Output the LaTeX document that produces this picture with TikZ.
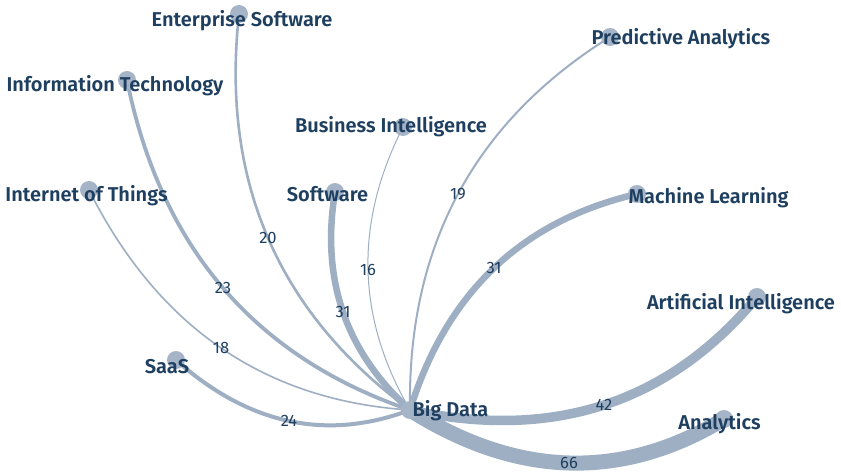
\documentclass[tikz,border=0pt]{standalone}
\usepackage{fontspec}
\setmainfont{Fira Sans}
\newfontfamily\lblfont{Fira Sans SemiBold}
\usetikzlibrary{calc}
\definecolor{edgecol}{RGB}{158,175,195}
\definecolor{dotcol}{RGB}{166,180,200}
\definecolor{txtcol}{RGB}{30,63,96}
\tikzset{
  edgeline/.style={draw=edgecol, line cap=round},
  dot/.style={circle, fill=dotcol, minimum size=18pt, inner sep=0pt, draw=none},
  nlabel/.style={font=\lblfont\fontsize{20}{22}\selectfont, text=txtcol, anchor=base, inner sep=0pt, yshift=-1.5pt},
  elabel/.style={font=\fontsize{16.5}{18}\selectfont, text=txtcol, inner sep=0pt},
}
\newcommand\bdlink[3]{%
  \draw[edgeline, line width=#3pt] (bd) .. controls ($1.3333*(#2)-0.3333*(#1)$) and ($1.3333*(#2)-0.3333*(bd)$) .. (#1);}
\begin{document}
\begin{tikzpicture}[x=1pt,y=-1pt]
\useasboundingbox[fill=white] (0,0) rectangle (841,473);
% node centres
\coordinate (bd) at (410,410);
\coordinate (ent) at (239,14);
\coordinate (it) at (127,80);
\coordinate (bi) at (403,127);
\coordinate (iot) at (89,190);
\coordinate (sw) at (335,192);
\coordinate (pa) at (610,37);
\coordinate (ml) at (637,194);
\coordinate (ai) at (757,297);
\coordinate (an) at (724,419);
\coordinate (saas) at (176,360);
% curve midpoints
\coordinate (m-ent) at (268,238);
\coordinate (m-it) at (223,288);
\coordinate (m-iot) at (221,348);
\coordinate (m-sw) at (343,312);
\coordinate (m-bi) at (368,270);
\coordinate (m-pa) at (458,194);
\coordinate (m-ml) at (494,268);
\coordinate (m-ai) at (604,405);
\coordinate (m-an) at (569,463);
\coordinate (m-saas) at (289,421);
% edges
\bdlink{an}{m-an}{15}
\bdlink{ai}{m-ai}{9.5}
\bdlink{ml}{m-ml}{6.5}
\bdlink{sw}{m-sw}{6.5}
\bdlink{saas}{m-saas}{4}
\bdlink{it}{m-it}{3.8}
\bdlink{ent}{m-ent}{2.6}
\bdlink{pa}{m-pa}{2}
\bdlink{iot}{m-iot}{1.6}
\bdlink{bi}{m-bi}{1}
% circles
\foreach \n in {bd,ent,it,bi,iot,sw,pa,ml,ai,an,saas}{\node[dot] (dot-\n) at (\n) {};}
% edge labels
\node[elabel] (l-an) at (m-an) {66};
\node[elabel] (l-ai) at (m-ai) {42};
\node[elabel] (l-ml) at (m-ml) {31};
\node[elabel] (l-sw) at (m-sw) {31};
\node[elabel] (l-saas) at (m-saas) {24};
\node[elabel] (l-it) at (m-it) {23};
\node[elabel] (l-ent) at (m-ent) {20};
\node[elabel] (l-pa) at (m-pa) {19};
\node[elabel] (l-iot) at (m-iot) {18};
\node[elabel] (l-bi) at (m-bi) {16};
% node labels
\node[nlabel] (t-ent) at (242,25) {Enterprise Software};
\node[nlabel] (t-it) at (115,90) {Information Technology};
\node[nlabel] (t-bi) at (391,131) {Business Intelligence};
\node[nlabel] (t-iot) at (86.5,200) {Internet of Things};
\node[nlabel] (t-sw) at (327.5,200) {Software};
\node[nlabel] (t-pa) at (681,43) {Predictive Analytics};
\node[nlabel] (t-ml) at (708.5,202) {Machine Learning};
\node[nlabel] (t-ai) at (741,308) {Artificial Intelligence};
\node[nlabel] (t-an) at (719.5,428) {Analytics};
\node[nlabel] (t-saas) at (167,372) {SaaS};
\node[nlabel] (t-bd) at (450.5,415) {Big Data};
\end{tikzpicture}
\end{document}
